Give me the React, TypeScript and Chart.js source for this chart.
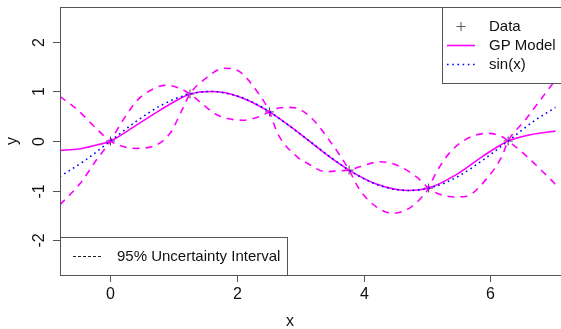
import React, { useEffect, useRef } from "react";
import { Chart, registerables } from "chart.js";
Chart.register(...registerables);

// Observed data points
const dataX = [0, 1.257, 2.513, 3.77, 5.027, 6.283];
const dataY = [0, 0.951, 0.588, -0.588, -0.951, 0];

// GP model mean
const meanX = [-0.8, -0.5, -0.25, 0, 0.375, 0.79, 1.1, 1.257, 1.6, 2.0, 2.513, 3.0, 3.4, 3.77, 4.2, 4.7, 5.027, 5.45, 5.87, 6.283, 6.65, 7.1];
const meanY = [-0.19, -0.16, -0.09, 0, 0.29, 0.63, 0.86, 0.951, 1.0, 0.91, 0.588, 0.14, -0.26, -0.588, -0.87, -1.0, -0.951, -0.69, -0.32, 0, 0.13, 0.21];

// sin(x) reference curve
const sinX = [-0.8, -0.4, 0, 0.4, 0.8, 1.2, 1.571, 2.0, 2.4, 2.8, 3.142, 3.5, 3.9, 4.3, 4.712, 5.1, 5.5, 5.9, 6.283, 6.7, 7.1];
const sinY = [-0.72, -0.39, 0, 0.39, 0.72, 0.93, 1.0, 0.91, 0.68, 0.33, 0, -0.35, -0.69, -0.92, -1.0, -0.93, -0.71, -0.37, 0, 0.41, 0.73];

// 95% uncertainty interval curves (two dashed curves crossing at data points)
const bandAX = [-0.8, -0.52, -0.31, -0.15, 0, 0.2, 0.4, 0.69, 0.95, 1.12, 1.257, 1.47, 1.8, 2.04, 2.3, 2.513, 2.64, 2.95, 3.11, 3.4, 3.63, 3.77, 3.94, 4.26, 4.52, 4.83, 5.027, 5.15, 5.45, 5.61, 5.97, 6.18, 6.283, 6.55, 6.91, 7.1];
const bandAY = [0.9, 0.63, 0.36, 0.16, 0, -0.11, -0.15, -0.1, 0.17, 0.6, 0.951, 1.23, 1.47, 1.4, 1.03, 0.588, 0.155, -0.32, -0.45, -0.62, -0.6, -0.588, -0.52, -0.42, -0.485, -0.72, -0.951, -1.05, -1.13, -1.12, -0.72, -0.32, 0, 0.42, 1.03, 1.35];
const bandBX = [-0.8, -0.48, -0.22, 0, 0.14, 0.27, 0.43, 0.69, 0.88, 1.1, 1.257, 1.45, 1.65, 1.83, 2.09, 2.3, 2.513, 2.64, 2.8, 2.95, 3.21, 3.42, 3.63, 3.77, 3.94, 4.2, 4.46, 4.72, 4.93, 5.027, 5.14, 5.35, 5.55, 5.77, 5.97, 6.18, 6.283, 6.55, 7.1];
const bandBY = [-1.29, -0.86, -0.38, 0, 0.3, 0.56, 0.83, 1.06, 1.13, 1.06, 0.951, 0.75, 0.55, 0.46, 0.42, 0.47, 0.588, 0.66, 0.68, 0.66, 0.42, 0.08, -0.3, -0.588, -0.99, -1.33, -1.46, -1.36, -1.12, -0.951, -0.65, -0.25, -0.02, 0.12, 0.155, 0.09, 0, -0.28, -0.96];

const xTicks = [0, 2, 4, 6];
const yTicks = [-2, -1, 0, 1, 2];
const legendTop = ["Data", "GP Model", "sin(x)"];
const legendBottom = "95% Uncertainty Interval";
const xTitle = "x";
const yTitle = "y";

const FONT = "'Liberation Sans', Arial, sans-serif";
const MAGENTA = "#ff00ff";
const BLUE = "#0000ff";

const pts = (xs: number[], ys: number[]) => xs.map((x, i) => ({ x, y: ys[i] }));

const overlay = {
  id: "overlay",
  afterDatasetsDraw(chart: any) {
    const ctx = chart.ctx as CanvasRenderingContext2D;
    const { left, top, right, bottom } = chart.chartArea;
    const xs = chart.scales.x;
    const ys = chart.scales.y;
    ctx.save();
    // frame
    ctx.strokeStyle = "#555";
    ctx.lineWidth = 1;
    ctx.setLineDash([]);
    ctx.strokeRect(left + 0.5, top + 0.5, right - left + 20, bottom - top);

    // y ticks and labels
    ctx.fillStyle = "#111";
    ctx.font = `16px ${FONT}`;
    yTicks.forEach((v) => {
      const p = Math.round(ys.getPixelForValue(v)) + 0.5;
      ctx.beginPath();
      ctx.moveTo(left - 7, p);
      ctx.lineTo(left, p);
      ctx.stroke();
      ctx.save();
      ctx.translate(40, p);
      ctx.rotate(-Math.PI / 2);
      ctx.textAlign = "center";
      ctx.textBaseline = "middle";
      ctx.fillText(String(v), 0, 0);
      ctx.restore();
    });
    // x ticks and labels
    xTicks.forEach((v) => {
      const p = Math.round(xs.getPixelForValue(v)) + 0.5;
      ctx.beginPath();
      ctx.moveTo(p, bottom);
      ctx.lineTo(p, bottom + 7);
      ctx.stroke();
      ctx.textAlign = "center";
      ctx.textBaseline = "middle";
      ctx.fillText(String(v), p, 295);
    });
    // axis titles
    ctx.textAlign = "center";
    ctx.textBaseline = "alphabetic";
    ctx.fillText(xTitle, 290, 326);
    ctx.save();
    ctx.translate(13, ys.getPixelForValue(0));
    ctx.rotate(-Math.PI / 2);
    ctx.textBaseline = "middle";
    ctx.fillText(yTitle, 0, 0);
    ctx.restore();

    // top-right legend
    ctx.fillStyle = "#fff";
    ctx.fillRect(442, top, 130, 76);
    ctx.strokeStyle = "#555";
    ctx.strokeRect(442.5, top + 0.5, 130, 76);
    const rows = [26.5, 45.5, 64.5];
    // Data marker
    ctx.strokeStyle = "#555";
    ctx.lineWidth = 1;
    ctx.beginPath();
    ctx.moveTo(456.5, rows[0]);
    ctx.lineTo(465.5, rows[0]);
    ctx.moveTo(461, rows[0] - 4.5);
    ctx.lineTo(461, rows[0] + 4.5);
    ctx.stroke();
    // GP model
    ctx.strokeStyle = MAGENTA;
    ctx.lineWidth = 1.6;
    ctx.beginPath();
    ctx.moveTo(447, rows[1]);
    ctx.lineTo(475, rows[1]);
    ctx.stroke();
    // sin(x)
    ctx.strokeStyle = BLUE;
    ctx.setLineDash([1.6, 3.6]);
    ctx.beginPath();
    ctx.moveTo(447, rows[2]);
    ctx.lineTo(475, rows[2]);
    ctx.stroke();
    ctx.setLineDash([]);
    ctx.fillStyle = "#111";
    ctx.font = `15px ${FONT}`;
    ctx.textAlign = "left";
    ctx.textBaseline = "middle";
    legendTop.forEach((t, i) => ctx.fillText(t, 489, rows[i]));

    // bottom-left legend
    ctx.fillStyle = "#fff";
    ctx.fillRect(left, 237, 227, bottom - 237);
    ctx.strokeStyle = "#555";
    ctx.lineWidth = 1;
    ctx.strokeRect(left + 0.5, 237.5, 227, bottom - 237);
    ctx.strokeStyle = "#222";
    ctx.setLineDash([3, 2]);
    ctx.beginPath();
    ctx.moveTo(73, 256.5);
    ctx.lineTo(103, 256.5);
    ctx.stroke();
    ctx.setLineDash([]);
    ctx.fillStyle = "#111";
    ctx.fillText(legendBottom, 117, 257);
    ctx.restore();
  },
};

export default function App() {
  const ref = useRef<HTMLCanvasElement | null>(null);
  useEffect(() => {
    document.body.style.margin = "0";
    const canvas = ref.current;
    if (!canvas) return;
    const lineBase = { showLine: true, pointRadius: 0, cubicInterpolationMode: "monotone" as const, clip: 0, fill: false };
    const chart = new Chart(canvas, {
      type: "scatter",
      data: {
        datasets: [
          { ...lineBase, label: "sin(x)", data: pts(sinX, sinY), borderColor: BLUE, borderWidth: 1.6, borderDash: [1.6, 3.6] },
          { ...lineBase, label: "GP Model", data: pts(meanX, meanY), borderColor: MAGENTA, borderWidth: 1.6 },
          { ...lineBase, label: "Upper/Lower A", data: pts(bandAX, bandAY), borderColor: MAGENTA, borderWidth: 1.6, borderDash: [7, 6] },
          { ...lineBase, label: "Upper/Lower B", data: pts(bandBX, bandBY), borderColor: MAGENTA, borderWidth: 1.6, borderDash: [7, 6] },
          {
            label: "Data",
            data: pts(dataX, dataY),
            showLine: false,
            pointStyle: "cross",
            pointRadius: 4.5,
            pointBorderColor: "#444",
            pointBackgroundColor: "#444",
            pointBorderWidth: 1,
          },
        ],
      },
      options: {
        animation: false,
        responsive: false,
        devicePixelRatio: 1,
        layout: { padding: { left: 60, right: 0, top: 7, bottom: 54 } },
        scales: {
          x: { type: "linear", min: -0.797, max: 7.031, display: false },
          y: { type: "linear", min: -2.707, max: 2.707, display: false },
        },
        plugins: { legend: { display: false }, tooltip: { enabled: false } },
      },
      plugins: [overlay],
    });
    return () => chart.destroy();
  }, []);
  return (
    <div style={{ position: "absolute", left: 0, top: 0, width: 561, height: 329, background: "#fff" }}>
      <canvas ref={ref} width={561} height={329} style={{ display: "block" }} />
    </div>
  );
}
